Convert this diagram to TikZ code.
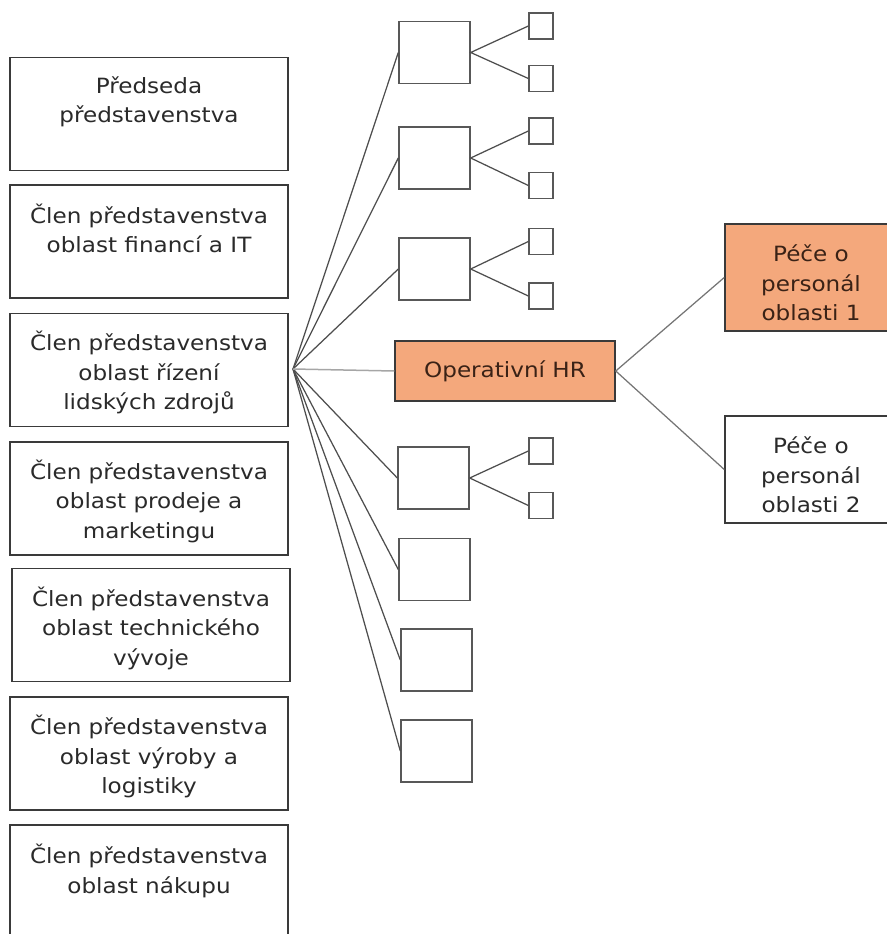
\documentclass[tikz,border=0pt]{standalone}
\usepackage{fontspec}
\setmainfont{DejaVu Sans}[FakeStretch=1.1]
\definecolor{hrorange}{HTML}{F4A87C}
\definecolor{edgec}{HTML}{3A3A3A}
\definecolor{txtc}{HTML}{2A2A2A}
\definecolor{brtxt}{HTML}{3A2216}
\newcommand\boxtext[4]{\parbox[c][#1pt][t]{#2pt}{\centering\vspace*{#3pt}\fontsize{21}{29.5}\selectfont #4\par}}
\begin{document}
\begin{tikzpicture}[x=1pt,y=-1pt,
  lbox/.style={draw=edgec, line width=1.7pt, inner sep=0pt, fill=white, text=txtc},
  ebox/.style={draw=edgec!85, line width=1.4pt, inner sep=0pt, fill=white, minimum width=71pt, minimum height=62pt},
  tbox/.style={draw=edgec!85, line width=1.3pt, inner sep=0pt, fill=white, minimum width=24pt, minimum height=26pt},
  obox/.style={draw=edgec, line width=1.5pt, inner sep=0pt, align=center, text=txtc, font=\fontsize{21}{29.5}\selectfont},
  conn/.style={draw=edgec!90, line width=1.25pt},
]
\useasboundingbox (0,0) rectangle (886,934);
% left column
\node[lbox] (b1) at (149,114) {\boxtext{113}{278}{19}{Předseda\\představenstva}};
\node[lbox] (b2) at (149,241.5) {\boxtext{113}{278}{19}{Člen představenstva\\oblast financí a IT}};
\node[lbox] (b3) at (149,370) {\boxtext{113}{278}{18}{Člen představenstva\\oblast řízení\\lidských zdrojů}};
\node[lbox] (b4) at (149,498.5) {\boxtext{113}{278}{18}{Člen představenstva\\oblast prodeje a\\marketingu}};
\node[lbox] (b5) at (151,625) {\boxtext{113}{278}{18}{Člen představenstva\\oblast technického\\vývoje}};
\node[lbox] (b6) at (149,753.5) {\boxtext{113}{278}{18}{Člen představenstva\\oblast výroby a\\logistiky}};
\node[lbox] (b7) at (149,881.5) {\boxtext{113}{278}{19}{Člen představenstva\\oblast nákupu}};
\coordinate (fan) at (293,369);
% middle column
\node[ebox] (m1) at (434.5,52.5) {};
\node[ebox] (m2) at (434.5,158) {};
\node[ebox] (m3) at (434.5,269) {};
\node[obox, fill=hrorange, text=brtxt, minimum width=220pt, minimum height=60pt] (hr) at (505,371) {Operativní HR};
\node[ebox] (m4) at (433.5,478) {};
\node[ebox] (m5) at (434.5,569.5) {};
\node[ebox] (m6) at (436.5,660) {};
\node[ebox] (m7) at (436.5,751) {};
% tiny boxes
\node[tbox] (t1) at (541,26) {};
\node[tbox] (t2) at (541,78.5) {};
\node[tbox] (t3) at (541,131) {};
\node[tbox] (t4) at (541,185.5) {};
\node[tbox] (t5) at (541,241.5) {};
\node[tbox] (t6) at (541,296) {};
\node[tbox] (t7) at (541,451) {};
\node[tbox] (t8) at (541,505.5) {};
% right boxes
\node[lbox, fill=hrorange, text=brtxt, line width=1.5pt] (p1) at (811,277.5) {\boxtext{107}{172}{21}{Péče o\\personál\\oblasti 1}};
\node[lbox, line width=1.5pt] (p2) at (811,469.5) {\boxtext{107}{172}{21}{Péče o\\personál\\oblasti 2}};
% connectors
\foreach \m in {m1,m2,m3,m4,m5,m6,m7} \draw[conn] (fan) -- (\m.west);
\draw[conn, draw=edgec!45, line width=1.5pt] (fan) -- (hr.west);
\draw[conn] (t1.west) -- (m1.east) -- (t2.west);
\draw[conn] (t3.west) -- (m2.east) -- (t4.west);
\draw[conn] (t5.west) -- (m3.east) -- (t6.west);
\draw[conn] (t7.west) -- (m4.east) -- (t8.west);
\draw[conn, draw=edgec!70] (p1.west) -- (hr.east) -- (p2.west);
\end{tikzpicture}
\end{document}
